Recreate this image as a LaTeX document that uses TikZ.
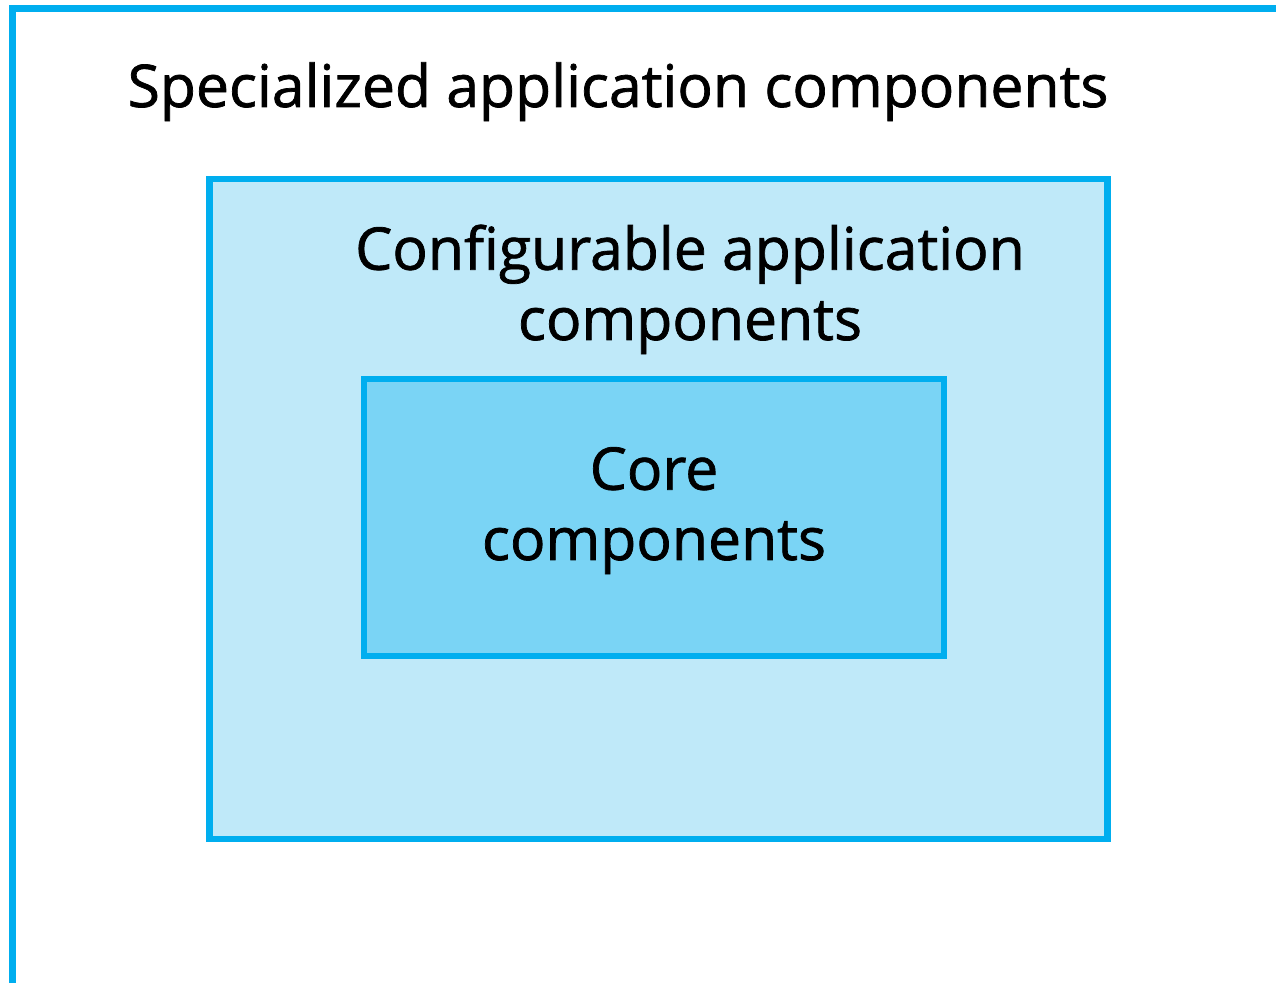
\documentclass[tikz,border=0pt]{standalone}
\usepackage{fontspec}
\setmainfont{Open Sans}[BoldFont={Open Sans}, BoldFeatures={FakeBold=1.2}]
\usepackage{tikz}
\usetikzlibrary{positioning}
\definecolor{FrameColor}{RGB}{0,174,239}
\definecolor{ConfigFill}{RGB}{191,233,249}
\definecolor{CoreFill}{RGB}{122,212,245}
\tikzstyle{layerbox} = [draw=FrameColor, line width=3.6pt, rectangle, inner sep=0pt]
\tikzstyle{layertext} = [font=\fontsize{33.5}{40}\selectfont\bfseries, align=center, anchor=base, inner sep=0pt]

\begin{document}
\begin{tikzpicture}[x=0.02cm, y=-0.02cm]
    % Reuse layers: specialized > configurable > core
    \useasboundingbox[fill=white] (0,0) rectangle (1276,983);
    \clip (0,0) rectangle (1276,983);
    \coordinate (framecorner) at (12.5,8.5);
    \draw[FrameColor, line width=3.6pt] (framecorner |- 0,990) -- (framecorner) -- (1290,8.5);
    \node[layertext] (special) at (618,107) {Specialized application components};

    \node[layerbox, fill=ConfigFill, minimum width=17.96cm, minimum height=13.21cm] (config) at (658.5,509) {};
    \node[layertext] (configtext) at (690,340) {Configurable application\\components};

    \node[layerbox, fill=CoreFill, minimum width=11.6cm, minimum height=5.54cm] (core) at (654,517.5) {};
    \node[layertext] (coretext) at (654,560) {Core\\components};
\end{tikzpicture}
\end{document}
